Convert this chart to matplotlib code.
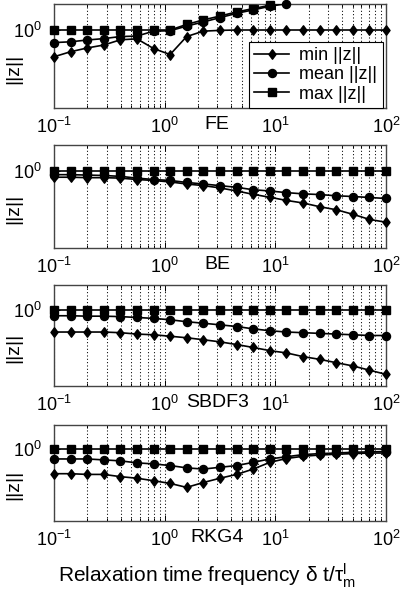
import numpy as np
import matplotlib
matplotlib.use("Agg")
import matplotlib.pyplot as plt
from matplotlib.lines import Line2D
from matplotlib.path import Path
from matplotlib.ticker import LogLocator, NullFormatter, FixedLocator

plt.rcParams["font.family"] = ["Liberation Sans", "DejaVu Sans"]
plt.rcParams["mathtext.fontset"] = "custom"
plt.rcParams["mathtext.rm"] = "Liberation Sans"
plt.rcParams["mathtext.it"] = "Liberation Sans:italic"
plt.rcParams["mathtext.bf"] = "Liberation Sans:bold"

# ---- data -----------------------------------------------------------------
freq = [0.1, 0.141, 0.2, 0.282, 0.398, 0.562, 0.794, 1.12, 1.58, 2.24, 3.16,
        4.47, 6.31, 8.91, 12.6, 17.8, 25.1, 35.5, 50.1, 70.8, 100.0]

methods = ["FE", "BE", "SBDF3", "RKG4"]
series_names = ["min ||z||", "mean ||z||", "max ||z||"]

nan = float("nan")
fe_min = [0.49, 0.56, 0.62, 0.67, 0.77, 0.79, 0.61, 0.52, 0.84, 0.97, 0.99,
          1.0, 1.0, 1.0, 1.0, 1.0, 1.0, 1.0, 1.0, 1.0, 1.0]
fe_mean = [0.715, 0.73, 0.766, 0.795, 0.84, 0.85, 0.97, 0.98, 1.11, 1.24, 1.39,
           1.56, 1.71, 1.88, 2.02, 2.3, nan, nan, nan, nan, nan]
fe_max = [1.0, 1.0, 1.0, 1.0, 1.0, 1.0, 1.0, 1.0, 1.16, 1.31, 1.45,
          1.62, 1.77, 1.93, 2.15, nan, nan, nan, nan, nan, nan]

be_min = [0.84, 0.84, 0.83, 0.83, 0.82, 0.79, 0.77, 0.74, 0.70, 0.67, 0.63,
          0.58, 0.53, 0.49, 0.45, 0.42, 0.38, 0.35, 0.31, 0.27, 0.25]
be_mean = [0.90, 0.90, 0.89, 0.88, 0.86, 0.82, 0.79, 0.77, 0.73, 0.70, 0.67,
           0.64, 0.60, 0.58, 0.555, 0.537, 0.527, 0.51, 0.50, 0.487, 0.474]
be_max = [1.0] * 21

sbdf_min = [0.55, 0.55, 0.55, 0.55, 0.54, 0.52, 0.51, 0.49, 0.47, 0.445, 0.42,
            0.39, 0.36, 0.33, 0.31, 0.28, 0.26, 0.237, 0.217, 0.193, 0.172]
sbdf_mean = [0.86, 0.86, 0.85, 0.85, 0.84, 0.82, 0.80, 0.77, 0.73, 0.70, 0.67,
             0.64, 0.60, 0.57, 0.55, 0.54, 0.53, 0.52, 0.51, 0.50, 0.50]
sbdf_max = [1.0] * 21

rkg_min = [0.49, 0.49, 0.48, 0.48, 0.45, 0.43, 0.40, 0.37, 0.33, 0.38, 0.43,
           0.48, 0.56, 0.68, 0.76, 0.81, 0.84, 0.86, 0.875, 0.89, 0.89]
rkg_mean = [0.75, 0.75, 0.75, 0.73, 0.71, 0.67, 0.65, 0.62, 0.58, 0.56, 0.59,
            0.62, 0.68, 0.75, 0.80, 0.85, 0.875, 0.89, 0.91, 0.92, 0.93]
rkg_max = [1.0] * 21

panels = [
    (fe_min, fe_mean, fe_max),
    (be_min, be_mean, be_max),
    (sbdf_min, sbdf_mean, sbdf_max),
    (rkg_min, rkg_mean, rkg_max),
]

# ---- style ----------------------------------------------------------------
W, H = 407, 595
fig = plt.figure(figsize=(W / 100, H / 100), dpi=100)

diamond = Path([(0, 1), (0.75, 0), (0, -1), (-0.75, 0), (0, 1)],
               [Path.MOVETO, Path.LINETO, Path.LINETO, Path.LINETO, Path.CLOSEPOLY])
markers = [(diamond, 6.8), ("o", 5.8), ("s", 5.2)]

ylo, yhi = 0.125, 2.0
FS = 13

# panel pixel boxes (top, bottom)
boxes = [(4, 108), (145, 248), (285, 386), (425, 521)]
left_px, right_px = 54, 386

x = np.array(freq)
axes = []
for i, (box, data) in enumerate(zip(boxes, panels)):
    top, bot = box
    ax = fig.add_axes([left_px / W, 1 - bot / H, (right_px - left_px) / W, (bot - top) / H])
    axes.append(ax)
    ax.set_xscale("log")
    ax.set_yscale("log")
    for vals, (mk, ms) in zip(data, markers):
        y = np.array(vals, dtype=float)
        ax.plot(x, y, "-", color="k", lw=1.2, clip_on=True, zorder=3)
        inside = np.isfinite(y) & (y <= yhi * 1.02)
        ax.plot(x[inside], y[inside], ls="none", marker=mk, ms=ms, color="k",
                mec="k", mfc="k", clip_on=False, zorder=4)
    ax.set_xlim(0.1, 100)
    ax.set_ylim(ylo, yhi)
    ax.xaxis.set_major_locator(LogLocator(base=10, numticks=10))
    ax.xaxis.set_minor_locator(LogLocator(base=10, subs=np.arange(2, 10), numticks=20))
    ax.xaxis.set_minor_formatter(NullFormatter())
    ax.yaxis.set_major_locator(FixedLocator([1.0]))
    ax.yaxis.set_minor_locator(FixedLocator([]))
    ax.grid(True, which="both", axis="x", linestyle=(0, (1, 2.2)), color="k", lw=0.75)
    ax.tick_params(which="both", direction="in", top=True, right=True, labelsize=FS)
    ax.tick_params(which="major", length=4, width=0.7)
    ax.tick_params(which="minor", length=2.5, width=0.7)
    ax.tick_params(axis="x", pad=6.5)
    ax.tick_params(axis="y", pad=9)
    for sp in ax.spines.values():
        sp.set_color("#444444")
        sp.set_linewidth(1.0)
    ax.set_ylabel("||z||", fontsize=FS + 1)
    ax.yaxis.set_label_coords(-0.095, 0.38)
    ax.annotate(methods[i], xy=(0.5, 0), xycoords="axes fraction",
                xytext=(-2, -6), textcoords="offset points",
                ha="center", va="top", fontsize=FS + 1)

handles = [Line2D([], [], color="k", lw=1.2, marker=mk, ms=ms, mfc="k", mec="k")
           for mk, ms in markers]
leg = axes[0].legend(handles, series_names, loc="lower right",
                     bbox_to_anchor=(0.99, 0.0), fontsize=FS, frameon=True,
                     fancybox=False, edgecolor="k", framealpha=1,
                     handlelength=1.95, handletextpad=0.55, labelspacing=0.12,
                     borderpad=0.3, borderaxespad=0.0)
leg.get_frame().set_linewidth(0.8)

fig.text(207 / W, 1 - 576 / H,
         r"Relaxation time frequency $\mathregular{\delta}$ t/$\mathregular{\tau_m^l}$",
         ha="center", va="center", fontsize=15)

fig.savefig("out.png", dpi=100)
